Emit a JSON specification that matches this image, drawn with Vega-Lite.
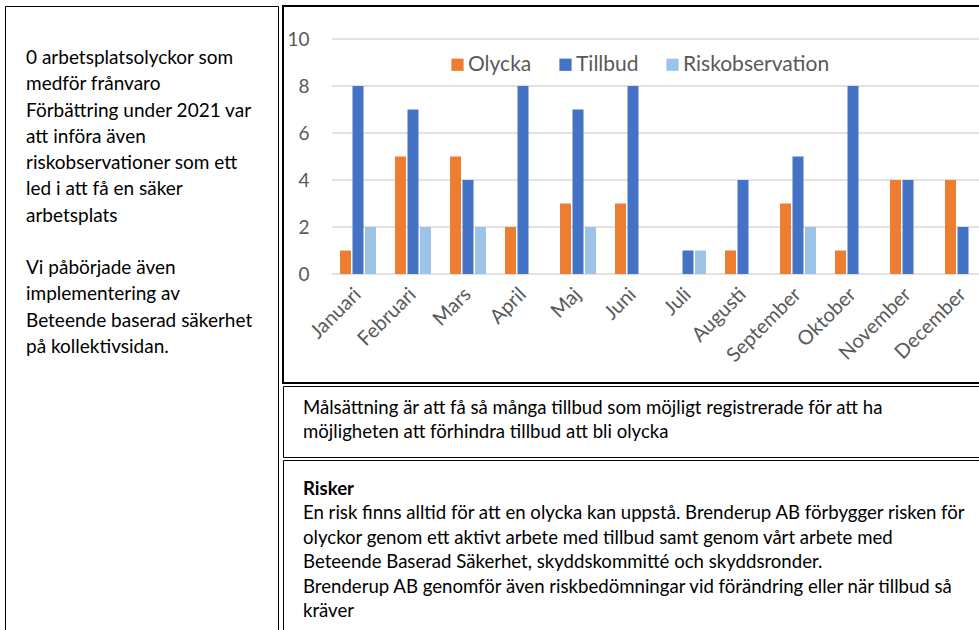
{
  "$schema": "https://vega.github.io/schema/vega-lite/v6.json",
  "padding": {"left": 4, "top": 5, "right": 0, "bottom": 0},
  "background": "white",
  "config": {
    "font": "Lato",
    "view": {"stroke": null},
    "concat": {"spacing": 3}
  },
  "datasets": {
    "left": [
      {"i": 1, "t": "0 arbetsplatsolyckor som"},
      {"i": 2, "t": "medför frånvaro"},
      {"i": 3, "t": "Förbättring under 2021 var"},
      {"i": 4, "t": "att införa även"},
      {"i": 5, "t": "riskobservationer som ett"},
      {"i": 6, "t": "led i att få en säker"},
      {"i": 7, "t": "arbetsplats"},
      {"i": 9, "t": "Vi påbörjade även"},
      {"i": 10, "t": "implementering av"},
      {"i": 11, "t": "Beteende baserad säkerhet"},
      {"i": 12, "t": "på kollektivsidan."}
    ],
    "mid": [
      {"i": 1, "t": "Målsättning är att få så många tillbud som möjligt registrerade för att ha"},
      {"i": 2, "t": "möjligheten att förhindra tillbud att bli olycka"}
    ],
    "bottom": [
      {"i": 1, "t": "Risker", "w": "bold"},
      {"i": 2, "t": "En risk finns alltid för att en olycka kan uppstå. Brenderup AB förbygger risken för", "w": "normal"},
      {"i": 3, "t": "olyckor genom ett aktivt arbete med tillbud samt genom vårt arbete med", "w": "normal"},
      {"i": 4, "t": "Beteende Baserad Säkerhet, skyddskommitté och skyddsronder.", "w": "normal"},
      {"i": 5, "t": "Brenderup AB genomför även riskbedömningar vid förändring eller när tillbud så", "w": "normal"},
      {"i": 6, "t": "kräver", "w": "normal"}
    ],
    "bars": [
      {"month": "Januari", "series": "Olycka", "value": 1},
      {"month": "Januari", "series": "Tillbud", "value": 8},
      {"month": "Januari", "series": "Riskobservation", "value": 2},
      {"month": "Februari", "series": "Olycka", "value": 5},
      {"month": "Februari", "series": "Tillbud", "value": 7},
      {"month": "Februari", "series": "Riskobservation", "value": 2},
      {"month": "Mars", "series": "Olycka", "value": 5},
      {"month": "Mars", "series": "Tillbud", "value": 4},
      {"month": "Mars", "series": "Riskobservation", "value": 2},
      {"month": "April", "series": "Olycka", "value": 2},
      {"month": "April", "series": "Tillbud", "value": 8},
      {"month": "April", "series": "Riskobservation", "value": 0},
      {"month": "Maj", "series": "Olycka", "value": 3},
      {"month": "Maj", "series": "Tillbud", "value": 7},
      {"month": "Maj", "series": "Riskobservation", "value": 2},
      {"month": "Juni", "series": "Olycka", "value": 3},
      {"month": "Juni", "series": "Tillbud", "value": 8},
      {"month": "Juni", "series": "Riskobservation", "value": 0},
      {"month": "Juli", "series": "Olycka", "value": 0},
      {"month": "Juli", "series": "Tillbud", "value": 1},
      {"month": "Juli", "series": "Riskobservation", "value": 1},
      {"month": "Augusti", "series": "Olycka", "value": 1},
      {"month": "Augusti", "series": "Tillbud", "value": 4},
      {"month": "Augusti", "series": "Riskobservation", "value": 0},
      {"month": "September", "series": "Olycka", "value": 3},
      {"month": "September", "series": "Tillbud", "value": 5},
      {"month": "September", "series": "Riskobservation", "value": 2},
      {"month": "Oktober", "series": "Olycka", "value": 1},
      {"month": "Oktober", "series": "Tillbud", "value": 8},
      {"month": "Oktober", "series": "Riskobservation", "value": 0},
      {"month": "November", "series": "Olycka", "value": 4},
      {"month": "November", "series": "Tillbud", "value": 4},
      {"month": "November", "series": "Riskobservation", "value": 0},
      {"month": "December", "series": "Olycka", "value": 4},
      {"month": "December", "series": "Tillbud", "value": 2},
      {"month": "December", "series": "Riskobservation", "value": 0}
    ],
    "grid": [{"v": 0}, {"v": 2}, {"v": 4}, {"v": 6}, {"v": 8}, {"v": 10}]
  },
  "hconcat": [
    {
      "width": 273,
      "height": 640,
      "view": {"stroke": "#000", "strokeWidth": 1},
      "data": {"name": "left"},
      "mark": {"type": "text", "align": "left", "baseline": "middle", "fontSize": 19, "color": "#000"},
      "encoding": {
        "x": {"datum": 0, "type": "quantitative", "scale": {"domain": [0, 1], "range": [21, 273]}, "axis": null},
        "y": {"field": "i", "type": "quantitative", "scale": {"domain": [1, 12], "range": [52, 341]}, "axis": null},
        "text": {"field": "t"}
      }
    },
    {
      "spacing": 1,
      "vconcat": [
        {
          "width": 712,
          "height": 377,
          "view": {"stroke": "#000", "strokeWidth": 2},
          "layer": [
            {
              "data": {"name": "grid"},
              "mark": {"type": "rule", "color": "#D9D9D9", "strokeWidth": 1.5},
              "encoding": {
                "x": {"datum": 0, "type": "quantitative", "scale": {"domain": [0, 1], "range": [49, 712]}, "axis": null},
                "x2": {"datum": 1},
                "y": {"field": "v", "type": "quantitative"}
              }
            },
            {
              "data": {"name": "bars"},
              "mark": {"type": "bar"},
              "encoding": {
                "x": {
                  "field": "month", "type": "nominal",
                  "sort": ["Januari", "Februari", "Mars", "April", "Maj", "Juni", "Juli", "Augusti", "September", "Oktober", "November", "December"],
                  "scale": {"range": [47.5, 707.5], "paddingInner": 0.345, "paddingOuter": 0.1725},
                  "axis": {"title": null, "orient": "bottom", "offset": -108, "domain": false, "ticks": false, "labelAngle": -45, "labelAlign": "right", "labelBaseline": "middle", "labelPadding": 16, "labelOffset": 0, "labelFontSize": 20, "labelColor": "#595959"}
                },
                "xOffset": {"field": "series", "type": "nominal", "sort": ["Olycka", "Tillbud", "Riskobservation"], "scale": {"paddingInner": 0.12}},
                "y": {
                  "field": "value", "type": "quantitative",
                  "scale": {"domain": [0, 10], "range": [268, 33]},
                  "axis": {"title": null, "orient": "left", "offset": -30, "grid": false, "domain": false, "ticks": false, "values": [0, 2, 4, 6, 8, 10], "labelPadding": 4, "labelFontSize": 19, "labelColor": "#595959"}
                },
                "color": {
                  "field": "series", "type": "nominal",
                  "scale": {"domain": ["Olycka", "Tillbud", "Riskobservation"], "range": ["#ED7D31", "#4472C4", "#9DC3E6"]},
                  "legend": {"title": null, "orient": "none", "direction": "horizontal", "legendX": 442, "legendY": 48, "symbolType": "square", "symbolSize": 150, "symbolStrokeWidth": 0, "labelFontSize": 21, "labelColor": "#595959", "columnPadding": 23, "labelOffset": 0}
                }
              }
            }
          ],
          "resolve": {"scale": {"x": "independent"}}
        },
        {
          "width": 712,
          "height": 71,
          "view": {"stroke": "#000", "strokeWidth": 1},
          "data": {"name": "mid"},
          "mark": {"type": "text", "align": "left", "baseline": "middle", "fontSize": 18.6, "color": "#000"},
          "encoding": {
            "x": {"datum": 0, "type": "quantitative", "scale": {"domain": [0, 1], "range": [20, 700]}, "axis": null},
            "y": {"field": "i", "type": "quantitative", "scale": {"domain": [1, 2], "range": [22, 46]}, "axis": null},
            "text": {"field": "t"}
          }
        },
        {
          "width": 712,
          "height": 190,
          "view": {"stroke": "#000", "strokeWidth": 1},
          "data": {"name": "bottom"},
          "encoding": {
            "x": {"datum": 0, "type": "quantitative", "scale": {"domain": [0, 1], "range": [20, 700]}, "axis": null},
            "y": {"field": "i", "type": "quantitative", "scale": {"domain": [1, 6], "range": [29, 151]}, "axis": null},
            "text": {"field": "t"}
          },
          "layer": [
            {
              "transform": [{"filter": "datum.w === 'bold'"}],
              "mark": {"type": "text", "align": "left", "baseline": "middle", "fontSize": 18.6, "fontWeight": "bold", "color": "#000"}
            },
            {
              "transform": [{"filter": "datum.w !== 'bold'"}],
              "mark": {"type": "text", "align": "left", "baseline": "middle", "fontSize": 18.6, "color": "#000"}
            }
          ]
        }
      ]
    }
  ]
}
